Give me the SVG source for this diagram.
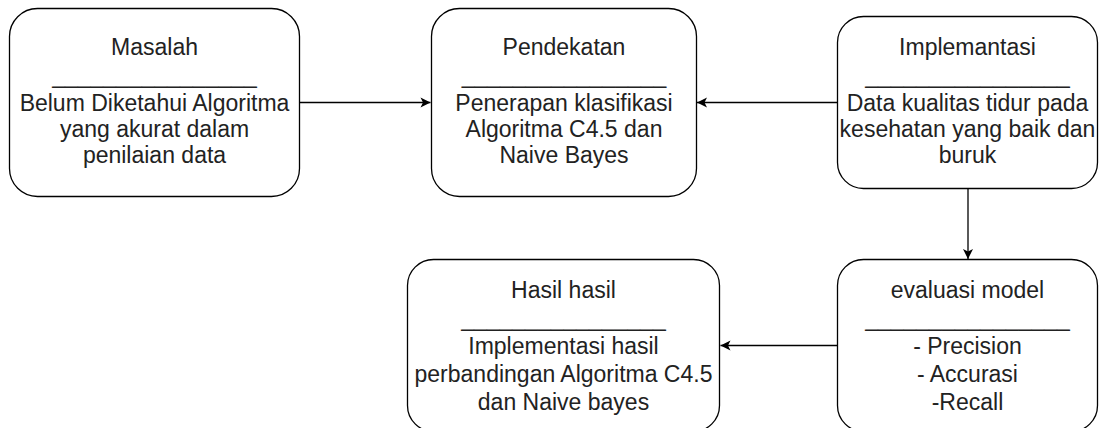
<svg xmlns="http://www.w3.org/2000/svg" width="1099" height="428" viewBox="0 0 1099 428">
<style>
.box{fill:#fff;stroke:#000;stroke-width:1.3}
.lbl{font-family:"Liberation Sans",Arial,sans-serif;font-size:23px;fill:#222;text-anchor:middle}
.edge{stroke:#000;stroke-width:1.3;fill:none}
</style>
<defs>
<marker id="arr" markerUnits="userSpaceOnUse" markerWidth="12" markerHeight="12" viewBox="-11 -6 12 12" refX="0" refY="0" orient="auto">
<path d="M0,0 L-10,-5 L-7.5,0 L-10,5 Z" fill="#000"/>
</marker>
</defs>
<rect width="1099" height="428" fill="#fff"/>
<g id="connectors">
<line class="edge" x1="300" y1="102.5" x2="430.5" y2="102.5" marker-end="url(#arr)"/>
<line class="edge" x1="837" y1="102.5" x2="697" y2="102.5" marker-end="url(#arr)"/>
<line class="edge" x1="968" y1="189" x2="968" y2="259" marker-end="url(#arr)"/>
<line class="edge" x1="837" y1="345.5" x2="720.5" y2="345.5" marker-end="url(#arr)"/>
</g>
<g id="masalah">
<rect class="box" x="9.5" y="8.5" width="290" height="188" rx="28"/>
<text class="lbl" x="154.5"><tspan x="154.5" y="55.3">Masalah</tspan><tspan x="154.5" y="83">________________</tspan><tspan x="154.5" y="111">Belum Diketahui Algoritma</tspan><tspan x="154.5" y="137">yang akurat dalam</tspan><tspan x="154.5" y="162.5">penilaian data</tspan></text>
</g>
<g id="pendekatan">
<rect class="box" x="431.5" y="8.5" width="265" height="188" rx="28"/>
<text class="lbl" x="564"><tspan x="564" y="55.3">Pendekatan</tspan><tspan x="564" y="83">________________</tspan><tspan x="564" y="111">Penerapan klasifikasi</tspan><tspan x="564" y="137">Algoritma C4.5 dan</tspan><tspan x="564" y="162.5">Naive Bayes</tspan></text>
</g>
<g id="implementasi">
<rect class="box" x="837.5" y="16.5" width="260" height="172" rx="26"/>
<text class="lbl" x="967.5"><tspan x="967.5" y="55.3">Implemantasi</tspan><tspan x="967.5" y="83">________________</tspan><tspan x="967.5" y="111">Data kualitas tidur pada</tspan><tspan x="967.5" y="137">kesehatan yang baik dan</tspan><tspan x="967.5" y="162.5">buruk</tspan></text>
</g>
<g id="evaluasi">
<rect class="box" x="837.5" y="259.5" width="260" height="172" rx="26"/>
<text class="lbl" x="967.5"><tspan x="967.5" y="297.5">evaluasi model</tspan><tspan x="967.5" y="325.5">________________</tspan><tspan x="967.5" y="353.5">- Precision</tspan><tspan x="967.5" y="381.5">- Accurasi</tspan><tspan x="967.5" y="409.5">-Recall</tspan></text>
</g>
<g id="hasil">
<rect class="box" x="407.5" y="259.5" width="312" height="172" rx="26"/>
<text class="lbl" x="563.5"><tspan x="563.5" y="297.5">Hasil hasil</tspan><tspan x="563.5" y="325.5">________________</tspan><tspan x="563.5" y="353.5">Implementasi hasil</tspan><tspan x="563.5" y="381.5">perbandingan Algoritma C4.5</tspan><tspan x="563.5" y="409.5">dan Naive bayes</tspan></text>
</g>
</svg>
